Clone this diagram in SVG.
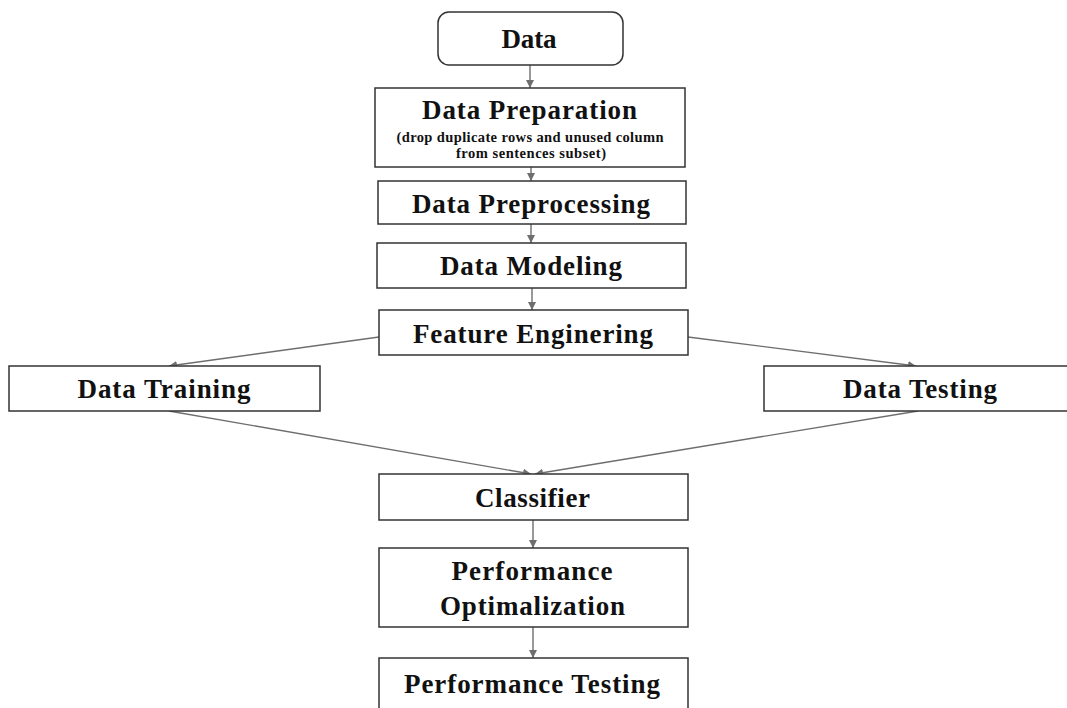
<svg xmlns="http://www.w3.org/2000/svg" width="1067" height="708" viewBox="0 0 1067 708">
<style>
  .box { fill: #ffffff; stroke: #333333; stroke-width: 1.5; }
  .t { font-family: "Liberation Serif", "Times New Roman", serif; font-weight: bold; font-size: 27px; fill: #111111; text-anchor: middle; }
  .s { font-family: "Liberation Serif", "Times New Roman", serif; font-weight: bold; font-size: 14.5px; fill: #111111; text-anchor: middle; }
  .c { fill: none; stroke: #6e6e6e; stroke-width: 1.4; marker-end: url(#ah); }
</style>
<defs>
  <marker id="ah" viewBox="0 0 8 8" refX="8" refY="4" markerWidth="8" markerHeight="8" markerUnits="userSpaceOnUse" orient="auto">
    <path d="M0,0 L8,4 L0,8 z" fill="#6e6e6e"/>
  </marker>
</defs>
<rect width="1067" height="708" fill="#ffffff"/>
<g id="connectors">
  <line class="c" x1="530" y1="65" x2="530" y2="88"/>
  <line class="c" x1="531" y1="167" x2="531" y2="181"/>
  <line class="c" x1="531" y1="224" x2="531" y2="243"/>
  <line class="c" x1="532" y1="288" x2="532" y2="310"/>
  <line class="c" x1="379" y1="337" x2="169" y2="366"/>
  <line class="c" x1="688" y1="337" x2="916" y2="366"/>
  <line class="c" x1="169" y1="411" x2="531" y2="474"/>
  <line class="c" x1="918" y1="411" x2="535" y2="474"/>
  <line class="c" x1="533" y1="520" x2="533" y2="548"/>
  <line class="c" x1="533" y1="627" x2="533" y2="658"/>
</g>
<g id="data">
  <rect class="box" x="438" y="12" width="185" height="53" rx="11"/>
  <text class="t" x="529" y="48" textLength="55">Data</text>
</g>
<g id="data-preparation">
  <rect class="box" x="375" y="88" width="310" height="79"/>
  <text class="t" x="529.5" y="119" textLength="215">Data Preparation</text>
  <text class="s" x="530" y="142" textLength="267">(drop duplicate rows and unused column</text>
  <text class="s" x="531" y="158" textLength="150">from sentences subset)</text>
</g>
<g id="data-preprocessing">
  <rect class="box" x="378" y="181" width="308" height="43"/>
  <text class="t" x="531" y="213" textLength="238">Data Preprocessing</text>
</g>
<g id="data-modeling">
  <rect class="box" x="377" y="243" width="309" height="45"/>
  <text class="t" x="531" y="275" textLength="182">Data Modeling</text>
</g>
<g id="feature-engineering">
  <rect class="box" x="379" y="310" width="309" height="45"/>
  <text class="t" x="533" y="343" textLength="240">Feature Enginering</text>
</g>
<g id="data-training">
  <rect class="box" x="9" y="366" width="311" height="45"/>
  <text class="t" x="164" y="398" textLength="173">Data Training</text>
</g>
<g id="data-testing">
  <rect class="box" x="764" y="366" width="312" height="45"/>
  <text class="t" x="920" y="398" textLength="154">Data Testing</text>
</g>
<g id="classifier">
  <rect class="box" x="379" y="474" width="309" height="46"/>
  <text class="t" x="532.5" y="507" textLength="115">Classifier</text>
</g>
<g id="performance-optimalization">
  <rect class="box" x="379" y="548" width="309" height="79"/>
  <text class="t" x="532" y="580" textLength="161">Performance</text>
  <text class="t" x="532.5" y="615" textLength="185">Optimalization</text>
</g>
<g id="performance-testing">
  <rect class="box" x="379" y="658" width="309" height="60"/>
  <text class="t" x="532" y="693" textLength="256">Performance Testing</text>
</g>
</svg>
